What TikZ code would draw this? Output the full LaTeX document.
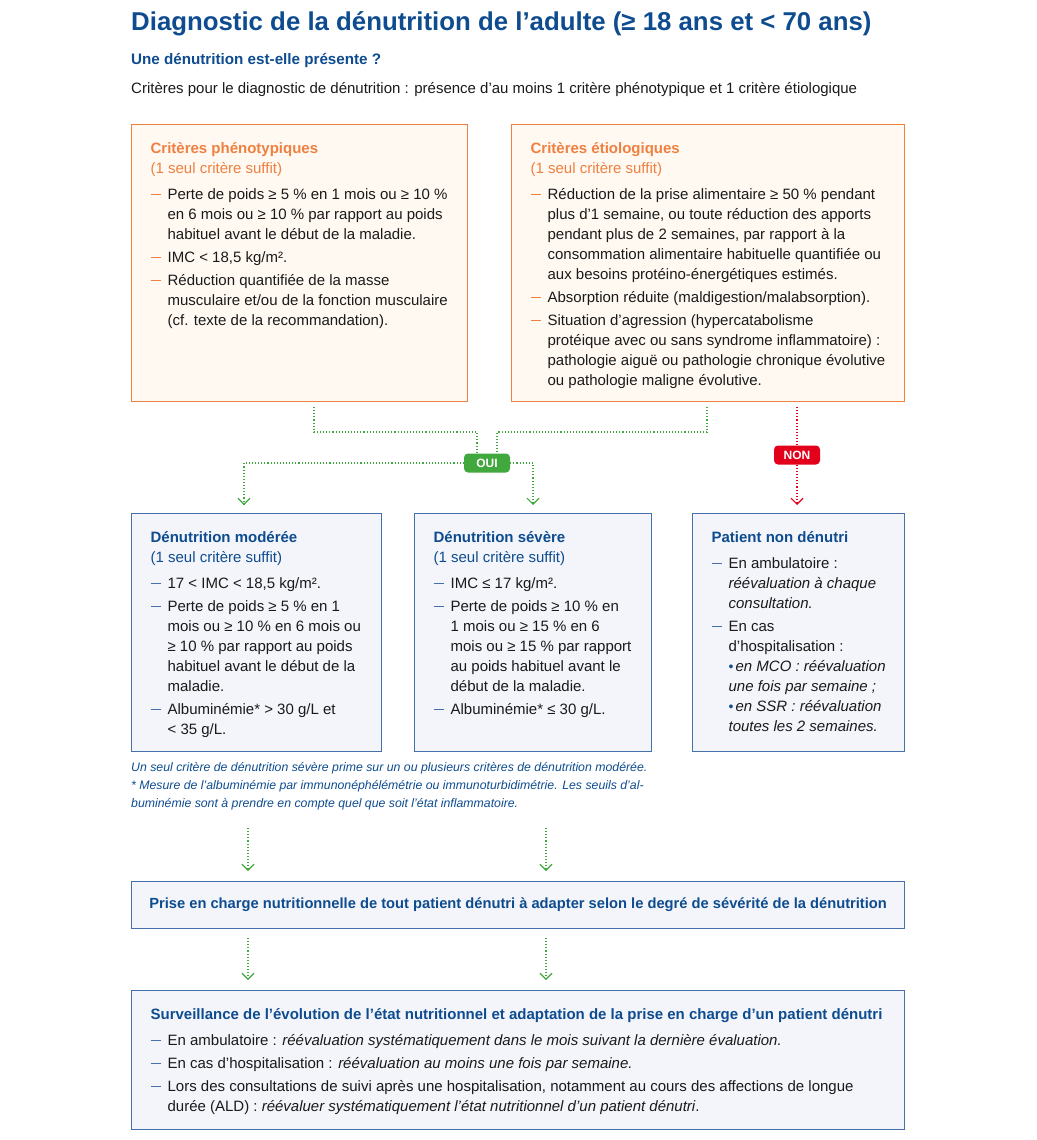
\documentclass[tikz,border=0pt]{standalone}
\usepackage{fontspec}
\setmainfont{Liberation Sans}
\usetikzlibrary{arrows.meta, positioning}

\definecolor{navy}{HTML}{0E4C8F}
\definecolor{orangeline}{HTML}{EE8040}
\definecolor{orangefill}{HTML}{FFF9F2}
\definecolor{blueline}{HTML}{4470AC}
\definecolor{bluefill}{HTML}{F3F5FA}
\definecolor{okgreen}{HTML}{40A83C}
\definecolor{nored}{HTML}{E2001A}
\definecolor{ink}{HTML}{1A1A1A}

% contenido de caja: ancho, alto, texto
\newcommand{\boxtext}[3]{\parbox[c][#2pt][t]{#1pt}{\fontsize{15}{20}\selectfont\color{ink}\parindent=0pt\leftskip=19pt\rightskip=0pt plus 1fil\parfillskip=0pt plus 1fil\relax\leavevmode\rule{0pt}{29pt}#3}}
\newcommand{\dashitem}[1][blueline]{\par\vspace{3pt}\hangindent=17pt\hangafter=1\noindent\makebox[17pt][l]{\textcolor{#1}{\rule[4.9pt]{10pt}{1.1pt}}}\ignorespaces}
\newcommand{\dotbullet}{\makebox[7pt][l]{\textcolor{navy}{\fontsize{14}{14}\selectfont•}}}

\begin{document}
\begin{tikzpicture}[x=1pt, y=-1pt, >={Straight Barb[length=6pt,width=12pt]}]
  % Definición de estilos
  \tikzstyle{orangebox} = [draw=orangeline, fill=orangefill, line width=1.2pt, inner sep=0pt, anchor=north west]
  \tikzstyle{bluebox} = [draw=blueline, fill=bluefill, line width=1.2pt, inner sep=0pt, anchor=north west]
  \tikzstyle{badge} = [rounded corners=4pt, text=white, font=\bfseries\fontsize{12}{13}\selectfont, minimum height=19pt, minimum width=46pt, inner sep=2pt]
  \tikzstyle{okline} = [okgreen, line width=1.1pt, dash pattern=on 1.1pt off 2pt]
  \tikzstyle{noline} = [nored, line width=1.1pt, dash pattern=on 1.1pt off 2pt]
  \useasboundingbox (0,0) rectangle (1036,1140);

  % Títulos
  \node[anchor=base west, inner sep=0pt, text=navy, font=\bfseries\fontsize{25.8}{30}\selectfont] (title) at (131,31) {Diagnostic de la dénutrition de l’adulte (≥ 18 ans et < 70 ans)};
  \node[anchor=base west, inner sep=0pt, text=navy, font=\bfseries\fontsize{15.2}{18}\selectfont] (question) at (131,64) {Une dénutrition est-elle présente ?};
  \node[anchor=base west, inner sep=0pt, text=ink, font=\fontsize{15}{18}\selectfont] (rule) at (131,93) {Critères pour le diagnostic de dénutrition : présence d’au moins 1 critère phénotypique et 1 critère étiologique};

  % Criterios
  \node[orangebox] (pheno) at (131,124) {\boxtext{336}{277}{%
    {\bfseries\color{orangeline}Critères phénotypiques}\newline
    {\color{orangeline}(1 seul critère suffit)}\par\vspace{3pt}
    \dashitem[orangeline] Perte de poids ≥ 5 \% en 1 mois ou ≥ 10 \%\newline en 6 mois ou ≥ 10 \% par rapport au poids\newline habituel avant le début de la maladie.
    \dashitem[orangeline] IMC < 18,5 kg/m².
    \dashitem[orangeline] Réduction quantifiée de la masse\newline musculaire et/ou de la fonction musculaire\newline (cf. texte de la recommandation).}};
  \node[orangebox] (etio) at (511,124) {\boxtext{393}{277}{%
    {\bfseries\color{orangeline}Critères étiologiques}\newline
    {\color{orangeline}(1 seul critère suffit)}\par\vspace{3pt}
    \dashitem[orangeline] Réduction de la prise alimentaire ≥ 50 \% pendant\newline plus d’1 semaine, ou toute réduction des apports\newline pendant plus de 2 semaines, par rapport à la\newline consommation alimentaire habituelle quantifiée ou\newline aux besoins protéino-énergétiques estimés.
    \dashitem[orangeline] Absorption réduite (maldigestion/malabsorption).
    \dashitem[orangeline] Situation d’agression (hypercatabolisme\newline protéique avec ou sans syndrome inflammatoire) :\newline pathologie aiguë ou pathologie chronique évolutive\newline ou pathologie maligne évolutive.}};

  % Resultados
  \node[bluebox] (moderate) at (131,513) {\boxtext{250}{238}{%
    {\bfseries\color{navy}Dénutrition modérée}\newline
    {\color{navy}(1 seul critère suffit)}\par\vspace{3pt}
    \dashitem 17 < IMC < 18,5 kg/m².
    \dashitem Perte de poids ≥ 5 \% en 1\newline mois ou ≥ 10 \% en 6 mois ou\newline ≥ 10 \% par rapport au poids\newline habituel avant le début de la\newline maladie.
    \dashitem Albuminémie* > 30 g/L et\newline < 35 g/L.}};
  \node[bluebox] (severe) at (414,513) {\boxtext{237}{238}{%
    {\bfseries\color{navy}Dénutrition sévère}\newline
    {\color{navy}(1 seul critère suffit)}\par\vspace{3pt}
    \dashitem IMC ≤ 17 kg/m².
    \dashitem Perte de poids ≥ 10 \% en\newline 1 mois ou ≥ 15 \% en 6\newline mois ou ≥ 15 \% par rapport\newline au poids habituel avant le\newline début de la maladie.
    \dashitem Albuminémie* ≤ 30 g/L.}};
  \node[bluebox] (healthy) at (692,513) {\boxtext{212}{238}{%
    {\bfseries\color{navy}Patient non dénutri}\par\vspace{3pt}
    \dashitem En ambulatoire :\newline \textit{réévaluation à chaque\newline consultation.}
    \dashitem En cas\newline d’hospitalisation :\newline \dotbullet\textit{en MCO : réévaluation\newline une fois par semaine ;}\newline \dotbullet\textit{en SSR : réévaluation\newline toutes les 2 semaines.}}};

  % Nota
  \node[anchor=north west, inner sep=0pt, align=left, text=navy, font=\itshape\fontsize{12.3}{18}\selectfont] (note) at (131,762) {Un seul critère de dénutrition sévère prime sur un ou plusieurs critères de dénutrition modérée.\\* Mesure de l’albuminémie par immunonéphélémétrie ou immunoturbidimétrie. Les seuils d’al-\\buminémie sont à prendre en compte quel que soit l’état inflammatoire.};

  % Prise en charge y surveillance
  \node[bluebox, minimum width=773pt, minimum height=47pt, text=navy, font=\bfseries\fontsize{14.7}{17}\selectfont] (care) at (131,881) {Prise en charge nutritionnelle de tout patient dénutri à adapter selon le degré de sévérité de la dénutrition};
  \node[bluebox] (follow) at (131,990) {\boxtext{773}{139}{%
    {\bfseries\color{navy}Surveillance de l’évolution de l’état nutritionnel et adaptation de la prise en charge d’un patient dénutri}\par\vspace{3pt}
    \dashitem En ambulatoire : \textit{réévaluation systématiquement dans le mois suivant la dernière évaluation.}
    \dashitem En cas d’hospitalisation : \textit{réévaluation au moins une fois par semaine.}
    \dashitem Lors des consultations de suivi après une hospitalisation, notamment au cours des affections de longue\newline durée (ALD) : \textit{réévaluer systématiquement l’état nutritionnel d’un patient dénutri}.}};

  % Etiquetas OUI / NON
  \node[badge, fill=okgreen] (yes) at (487,463) {OUI};
  \node[badge, fill=nored] (no) at (797,455) {NON};

  % Definición de nodos de conexión
  \coordinate (out1) at (314,407);
  \coordinate (out2) at (707,407);
  \coordinate (out3) at (797,407);
  \coordinate (elbow1) at (477,432);
  \coordinate (elbow2) at (497,432);
  \coordinate (elbow3) at (244,463);
  \coordinate (elbow4) at (533,463);
  \coordinate (down1) at (248,828);
  \coordinate (down2) at (546,828);
  \coordinate (down3) at (248,938);
  \coordinate (down4) at (546,938);

  % Conexiones entre nodos
  \draw[okline] (out1) |- (elbow1) -- (elbow1 |- yes.north);
  \draw[okline] (out2) |- (elbow2) -- (elbow2 |- yes.north);
  \draw[okline, ->, shorten >=8pt] (yes.west) -- (elbow3) -- (elbow3 |- moderate.north);
  \draw[okline, ->, shorten >=8pt] (yes.east) -- (elbow4) -- (elbow4 |- severe.north);
  \draw[noline] (out3) -- (no.north);
  \draw[noline, ->, shorten >=8pt] (no.south) -- (no.south |- healthy.north);
  \draw[okline, ->, shorten >=10pt] (down1) -- (down1 |- care.north);
  \draw[okline, ->, shorten >=10pt] (down2) -- (down2 |- care.north);
  \draw[okline, ->, shorten >=10pt] (down3) -- (down3 |- follow.north);
  \draw[okline, ->, shorten >=10pt] (down4) -- (down4 |- follow.north);
\end{tikzpicture}
\end{document}
